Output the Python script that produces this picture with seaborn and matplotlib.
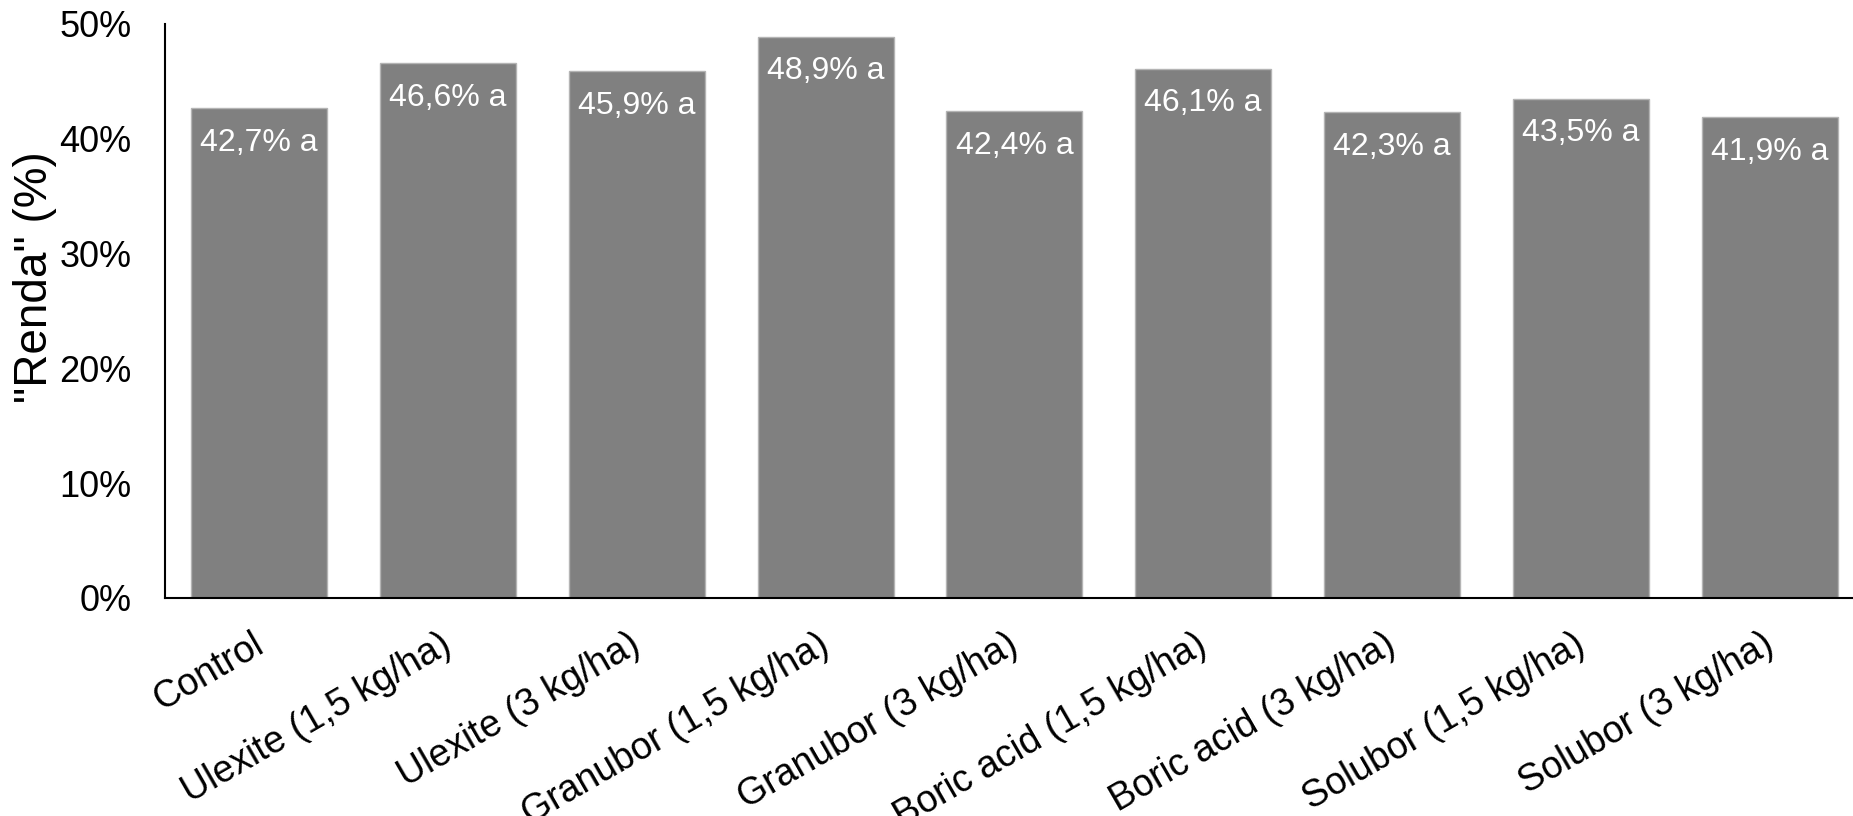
import matplotlib
matplotlib.use("Agg")
import matplotlib.pyplot as plt
from matplotlib.transforms import ScaledTranslation
import seaborn as sns
import pandas as pd

# Treatments and mean "Renda" values (%)
treatments = [
    "Control",
    "Ulexite (1,5 kg/ha)",
    "Ulexite (3 kg/ha)",
    "Granubor (1,5 kg/ha)",
    "Granubor (3 kg/ha)",
    "Boric acid (1,5 kg/ha)",
    "Boric acid (3 kg/ha)",
    "Solubor (1,5 kg/ha)",
    "Solubor (3 kg/ha)",
]
renda = [42.7, 46.6, 45.9, 48.9, 42.4, 46.1, 42.3, 43.5, 41.9]
letters = ["a", "a", "a", "a", "a", "a", "a", "a", "a"]
y_ticks = [0, 10, 20, 30, 40, 50]

df = pd.DataFrame({"treatment": treatments, "renda": renda})

sns.set_style("white")
plt.rcParams["font.family"] = ["Liberation Sans", "DejaVu Sans"]
plt.rcParams.update({
    "text.color": "black",
    "axes.labelcolor": "black",
    "xtick.color": "black",
    "ytick.color": "black",
})

fig = plt.figure(figsize=(18.53, 8.16), dpi=100)
ax = fig.add_axes([0.089, 0.2672, 0.911, 0.7034])

sns.barplot(
    data=df, x="treatment", y="renda", ax=ax,
    color="#808080", saturation=1, width=0.72,
    edgecolor="#b4b4b4", linewidth=1,
)

# value + significance letter inside the top of each bar
for i, (v, l) in enumerate(zip(renda, letters)):
    txt = f"{v:.1f}".replace(".", ",") + f"% {l}"
    ax.annotate(txt, xy=(i, v), xytext=(0, -25), textcoords="offset points",
                ha="center", va="center", color="white", fontsize=23)

ax.set_ylim(0, 50)
ax.set_xlim(-0.5, 8.442)
ax.set_yticks(y_ticks)
ax.set_yticklabels([f"{t}%" for t in y_ticks], fontsize=26)
ax.tick_params(axis="y", length=0, pad=24)
ax.tick_params(axis="x", length=0, pad=38)
ax.set_xticks(range(len(treatments)))
ax.set_xticklabels(treatments, fontsize=27, rotation=30, ha="right",
                   va="baseline", rotation_mode="anchor")
shift = ScaledTranslation(0.06, 0, fig.dpi_scale_trans)
for lbl in ax.get_xticklabels():
    lbl.set_transform(lbl.get_transform() + shift)

ax.set_xlabel("")
ax.set_ylabel('"Renda" (%)', fontsize=33, va="center")
ax.yaxis.set_label_coords(35 / 1853, 1 - 277 / 816, transform=fig.transFigure)

for side in ["top", "right"]:
    ax.spines[side].set_visible(False)
for side in ["left", "bottom"]:
    ax.spines[side].set_color("black")
    ax.spines[side].set_linewidth(1.5)

fig.savefig("out.png", dpi=100)
